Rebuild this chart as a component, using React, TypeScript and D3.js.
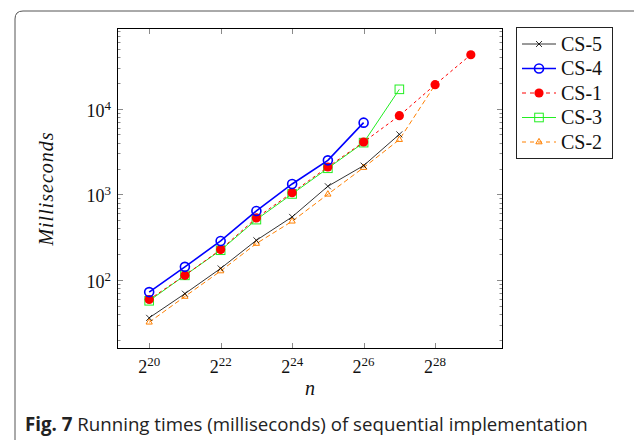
import { useEffect, useRef } from 'react'
import * as d3 from 'd3'

// exponents of n (n = 2^k)
const csXExp = [20, 21, 22, 23, 24, 25, 26, 27, 28, 29]

// running times in milliseconds
const cs5 = [36, 69, 136, 290, 544, 1240, 2160, 5010]
const cs4 = [72, 142, 285, 639, 1320, 2490, 6870]
const cs1 = [59, 113, 226, 529, 1045, 2084, 4080, 8280, 19060, 42650]
const cs3 = [57, 113, 222, 506, 1009, 2013, 4011, 16830]
const cs2 = [32, 64, 127, 266, 484, 1000, 2050, 4350, 19000]

const seriesNames = ['CS-5', 'CS-4', 'CS-1', 'CS-3', 'CS-2']
const xTickExp = [20, 22, 24, 26, 28]
const yTickExp = [2, 3, 4]

const captionBold = 'Fig. 7'
const captionText = ' Running times (milliseconds) of sequential implementation'

export default function App() {
  const svgRef = useRef<SVGSVGElement>(null)

  useEffect(() => {
    if (!svgRef.current) return
    const svg = d3.select(svgRef.current)
    svg.selectAll('*').remove()

    const width = 634
    const height = 440
    const plot = { left: 117, right: 503, top: 28, bottom: 349 }
    const serif = "'Liberation Serif', 'DejaVu Serif', serif"

    const series = [
      { values: cs5, color: '#000', width: 0.8, dash: null, mark: 'x' },
      { values: cs4, color: '#0000ff', width: 1.6, dash: null, mark: 'o' },
      { values: cs1, color: '#ff0000', width: 1, dash: '3,3', mark: '*' },
      { values: cs3, color: '#22ee22', width: 1, dash: null, mark: 's' },
      { values: cs2, color: '#ff8000', width: 1, dash: '5,3', mark: 't' },
    ].map((s, i) => ({ ...s, name: seriesNames[i] }))

    // pgfplots style 10% enlargement of the data range (in log space)
    const xExt = d3.extent(csXExp) as [number, number]
    const xPad = (xExt[1] - xExt[0]) * 0.1
    const allLog = series.flatMap(s => s.values.map(v => Math.log10(v)))
    const yExt = d3.extent(allLog) as [number, number]
    const yPad = (yExt[1] - yExt[0]) * 0.1

    const x = d3.scaleLog().base(2)
      .domain([Math.pow(2, xExt[0] - xPad), Math.pow(2, xExt[1] + xPad)])
      .range([plot.left, plot.right])
    const y = d3.scaleLog()
      .domain([Math.pow(10, yExt[0] - yPad), Math.pow(10, yExt[1] + yPad)])
      .range([plot.bottom, plot.top])

    // card border
    svg.append('path')
      .attr('d', `M15,${height + 10} V19 Q15,11 23,11 H${width + 10}`)
      .attr('fill', 'none')
      .attr('stroke', '#555')
      .attr('stroke-width', 1)

    const g = svg.append('g')

    // y ticks (major + minor), both sides, inward
    const [yLo, yHi] = y.domain()
    const tickColor = '#8a8a8a'
    for (let e = Math.floor(Math.log10(yLo)); e <= Math.ceil(Math.log10(yHi)); e++) {
      for (let m = 1; m <= 9; m++) {
        const v = m * Math.pow(10, e)
        if (v < yLo || v > yHi) continue
        const len = m === 1 ? 6 : 3.5
        const py = Math.round(y(v)) + 0.5
        g.append('line').attr('x1', plot.left).attr('x2', plot.left + len)
          .attr('y1', py).attr('y2', py).attr('stroke', tickColor)
        g.append('line').attr('x1', plot.right).attr('x2', plot.right - len)
          .attr('y1', py).attr('y2', py).attr('stroke', tickColor)
      }
    }
    xTickExp.forEach(k => {
      const px = Math.round(x(Math.pow(2, k))) + 0.5
      g.append('line').attr('x1', px).attr('x2', px)
        .attr('y1', plot.bottom).attr('y2', plot.bottom - 6).attr('stroke', tickColor)
      g.append('line').attr('x1', px).attr('x2', px)
        .attr('y1', plot.top).attr('y2', plot.top + 6).attr('stroke', tickColor)
    })

    // tick labels
    yTickExp.forEach(e => {
      const t = g.append('text')
        .attr('x', plot.left - 6)
        .attr('y', y(Math.pow(10, e)) + 8)
        .attr('text-anchor', 'end')
        .style('font-family', serif)
        .style('font-size', '18px')
        .style('fill', '#111')
      t.append('tspan').text('10')
      t.append('tspan').attr('dy', -7).style('font-size', '13px').text(String(e))
    })
    xTickExp.forEach(k => {
      const t = g.append('text')
        .attr('x', x(Math.pow(2, k)))
        .attr('y', 373)
        .attr('text-anchor', 'middle')
        .style('font-family', serif)
        .style('font-size', '18px')
        .style('fill', '#111')
      t.append('tspan').text('2')
      t.append('tspan').attr('dy', -7).style('font-size', '13px').text(String(k))
    })

    // axis labels
    svg.append('text')
      .attr('transform', `translate(53, ${(plot.top + plot.bottom) / 2}) rotate(-90)`)
      .attr('text-anchor', 'middle')
      .style('font-family', serif)
      .style('font-style', 'italic')
      .style('font-size', '20px')
      .style('letter-spacing', '1px')
      .style('fill', '#111')
      .text('Milliseconds')
    svg.append('text')
      .attr('x', (plot.left + plot.right) / 2)
      .attr('y', 395)
      .attr('text-anchor', 'middle')
      .style('font-family', serif)
      .style('font-style', 'italic')
      .style('font-size', '20px')
      .style('fill', '#111')
      .text('n')

    // series
    const clip = svg.append('defs').append('clipPath').attr('id', 'plotclip')
    clip.append('rect').attr('x', plot.left).attr('y', plot.top)
      .attr('width', plot.right - plot.left).attr('height', plot.bottom - plot.top)

    const drawMark = (sel: any, mark: string, cx: number, cy: number, color: string) => {
      if (mark === 'x') {
        const r = 3
        sel.append('path')
          .attr('d', `M${cx - r},${cy - r}L${cx + r},${cy + r}M${cx - r},${cy + r}L${cx + r},${cy - r}`)
          .attr('stroke', color).attr('stroke-width', 0.8).attr('fill', 'none')
      } else if (mark === 'o') {
        sel.append('circle').attr('cx', cx).attr('cy', cy).attr('r', 4.5)
          .attr('fill', 'none').attr('stroke', color).attr('stroke-width', 1.6)
      } else if (mark === '*') {
        sel.append('circle').attr('cx', cx).attr('cy', cy).attr('r', 4.6)
          .attr('fill', color)
      } else if (mark === 's') {
        sel.append('rect').attr('x', cx - 4.3).attr('y', cy - 4.3)
          .attr('width', 8.6).attr('height', 8.6)
          .attr('fill', 'none').attr('stroke', color).attr('stroke-width', 1)
      } else if (mark === 't') {
        const r = 3.6
        sel.append('path')
          .attr('d', `M${cx},${cy - r}L${cx + r * 0.87},${cy + r * 0.5}L${cx - r * 0.87},${cy + r * 0.5}Z`)
          .attr('stroke', color).attr('stroke-width', 1).attr('fill', 'none')
      }
    }

    const lineGen = d3.line<[number, number]>()
      .x(d => x(Math.pow(2, d[0])))
      .y(d => y(d[1]))

    const sg = svg.append('g').attr('clip-path', 'url(#plotclip)')
    // draw from bottom of legend up so CS-5 ends on top
    series.slice().reverse().forEach(s => {
      const pts: [number, number][] = s.values.map((v, i) => [csXExp[i], v])
      sg.append('path')
        .datum(pts)
        .attr('d', lineGen)
        .attr('fill', 'none')
        .attr('stroke', s.color)
        .attr('stroke-width', s.width)
        .attr('stroke-dasharray', s.dash)
      pts.forEach(p => drawMark(sg, s.mark, x(Math.pow(2, p[0])), y(p[1]), s.color))
    })

    // frame
    svg.append('rect')
      .attr('x', plot.left + 0.5).attr('y', plot.top + 0.5)
      .attr('width', plot.right - plot.left - 1).attr('height', plot.bottom - plot.top - 1)
      .attr('fill', 'none').attr('stroke', '#000').attr('stroke-width', 1)

    // legend
    const lg = svg.append('g')
    lg.append('rect')
      .attr('x', 516.5).attr('y', 27.5).attr('width', 96).attr('height', 131)
      .attr('fill', '#fff').attr('stroke', '#222').attr('stroke-width', 1)
    series.forEach((s, i) => {
      const ly = 44 + i * 24.5
      lg.append('line').attr('x1', 522).attr('x2', 556).attr('y1', ly).attr('y2', ly)
        .attr('stroke', s.color).attr('stroke-width', s.width)
        .attr('stroke-dasharray', s.dash ? '4,4' : null)
      drawMark(lg, s.mark, 539, ly, s.color)
      lg.append('text')
        .attr('x', 561).attr('y', ly + 6.5)
        .style('font-family', serif)
        .style('font-size', '20px')
        .style('fill', '#111')
        .text(s.name)
    })

    // caption
    const cap = svg.append('text')
      .attr('x', 25).attr('y', 431)
      .style('font-family', "'Open Sans', 'Noto Sans', sans-serif")
      .style('font-size', '18.7px')
      .style('fill', '#222')
    cap.append('tspan').style('font-weight', 'bold').text(captionBold)
    cap.append('tspan').text(captionText)
  }, [])

  return (
    <svg
      ref={svgRef}
      width={634}
      height={440}
      style={{ position: 'absolute', left: 0, top: 0, background: '#fff' }}
    />
  )
}
